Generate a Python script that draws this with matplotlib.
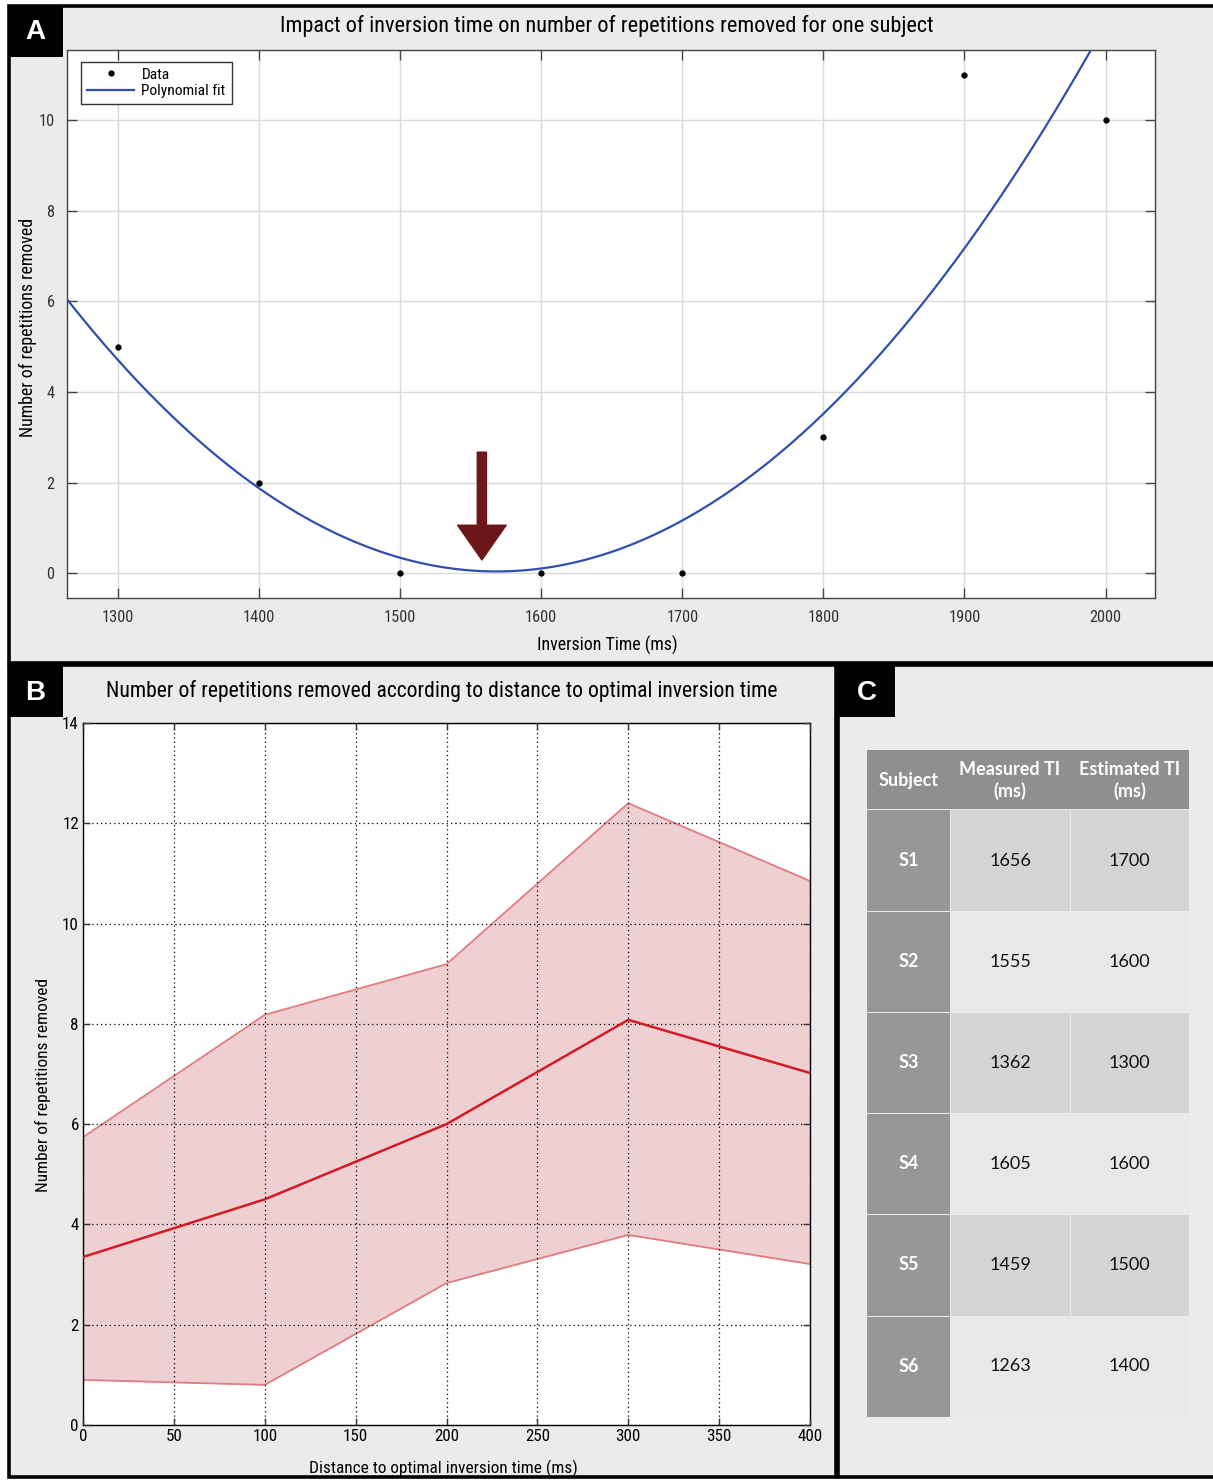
import numpy as np
import matplotlib
matplotlib.use("Agg")
import matplotlib.pyplot as plt
from matplotlib.patches import Rectangle, FancyArrowPatch
from matplotlib import font_manager as fm

# ---------------- data ----------------
# Panel A
ti_ms = [1300, 1400, 1500, 1600, 1700, 1800, 1900, 2000]
reps_removed = [5, 2, 0, 0, 0, 3, 11, 10]
arrow_x = 1558
arrow_y_top = 2.67
arrow_y_tip = 0.29

# Panel B
dist_ms = [0, 100, 200, 300, 400]
mean_reps = [3.35, 4.5, 6.0, 8.08, 7.02]
upper_reps = [5.74, 8.18, 9.19, 12.4, 10.85]
lower_reps = [0.9, 0.8, 2.83, 3.79, 3.21]

# Panel C
subjects = ["S1", "S2", "S3", "S4", "S5", "S6"]
measured_ti = [1656, 1555, 1362, 1605, 1459, 1263]
estimated_ti = [1700, 1600, 1300, 1600, 1500, 1400]
table_header = ["Subject", "Measured TI\n(ms)", "Estimated TI\n(ms)"]

# ---------------- fonts ----------------
installed = sorted({f.name for f in fm.fontManager.ttflist})
narrow_cands = [n for n in installed if ("Narrow" in n or "Condensed" in n)]
pref = ["Liberation Sans Narrow", "Arial Narrow", "Roboto Condensed", "DejaVu Sans Condensed",
        "Open Sans Condensed"]
narrow = None
for p in pref:
    if p in installed:
        narrow = p
        break
if narrow is None and narrow_cands:
    narrow = narrow_cands[0]
if narrow is None:
    narrow = "Liberation Sans" if "Liberation Sans" in installed else "DejaVu Sans"
NARROW = [narrow, "DejaVu Sans"]
TABLEF = ["Lato", "DejaVu Sans"]

# ---------------- figure ----------------
W, H = 1213, 1480
fig = plt.figure(figsize=(W / 100, H / 100), dpi=100, facecolor="white")
renderer = fig.canvas.get_renderer()


def px_axes(x0, y0, x1, y1, **kw):
    return fig.add_axes([x0 / W, 1 - y1 / H, (x1 - x0) / W, (y1 - y0) / H], **kw)


def fit(t, target, vertical=False):
    bb = t.get_window_extent(renderer)
    cur = bb.height if vertical else bb.width
    if cur > 0:
        t.set_fontsize(t.get_fontsize() * target / cur)


def size_for(text, target, family):
    t = fig.text(0, 0, text, fontsize=10, family=family)
    w = t.get_window_extent(renderer).width
    t.remove()
    return 10 * target / w


# background layer (pixel coordinates)
bg = px_axes(0, 0, W, H, zorder=0)
bg.set_xlim(0, W)
bg.set_ylim(H, 0)
bg.axis("off")
panel_bg = "#ebebeb"
for (x0, y0, x1, y1) in [(9, 6, 1216, 663), (9, 665, 836, 1477), (838, 665, 1216, 1477)]:
    bg.add_patch(Rectangle((x0, y0), x1 - x0, y1 - y0, facecolor=panel_bg,
                           edgecolor="black", lw=2.6))
for lab, (x0, y0, x1, y1) in zip("ABC", [(8, 5, 63, 57), (8, 666, 63, 717), (838, 666, 895, 717)]):
    bg.add_patch(Rectangle((x0, y0), x1 - x0, y1 - y0, facecolor="black", edgecolor="none"))
    bg.text((x0 + x1) / 2, (y0 + y1) / 2 + 1, lab, color="white", fontsize=20,
            fontweight="bold", ha="center", va="center", family=["Liberation Sans", "DejaVu Sans"])

tickA = size_for("1300", 32, NARROW)
tickB = size_for("400", 25, NARROW)
legsz = size_for("Polynomial fit", 84, NARROW)

# ---------------- Panel A ----------------
axA = px_axes(67, 50, 1155, 598, zorder=2)
axA.set_facecolor("white")
xs = np.linspace(1260, 2040, 400)
coef = np.polyfit(ti_ms, reps_removed, 2)
axA.plot(xs, np.polyval(coef, xs), color="#2f4fb0", lw=1.6, label="Polynomial fit", zorder=3)
axA.plot(ti_ms, reps_removed, "o", color="black", ms=3.5, label="Data", zorder=4)
axA.set_xlim(1264, 2035)
axA.set_ylim(-0.55, 11.55)
axA.set_xticks(ti_ms)
axA.set_yticks([0, 2, 4, 6, 8, 10])
axA.grid(True, color="#dadada", lw=1.0)
axA.set_axisbelow(True)
axA.tick_params(direction="in", length=7, width=1, color="#444444", top=True, right=True,
                labelsize=tickA, labelcolor="#333333", pad=9)
for lbl in axA.get_xticklabels() + axA.get_yticklabels():
    lbl.set_family(NARROW)
for s in axA.spines.values():
    s.set_color("#444444")
    s.set_linewidth(1.0)
xlA = axA.set_xlabel("Inversion Time (ms)", fontsize=12, family=NARROW)
ylA = axA.set_ylabel("Number of repetitions removed", fontsize=12, family=NARROW)
axA.xaxis.set_label_coords((607 - 67) / 1088, -(645 - 598) / 548)
axA.yaxis.set_label_coords((28 - 67) / 1088, (598 - 327) / 548)
xlA.set_va("center")
ylA.set_va("center")
fit(xlA, 141)
fit(ylA, 220, vertical=True)
h, l = axA.get_legend_handles_labels()
leg = axA.legend(h[::-1], l[::-1], loc="upper left", bbox_to_anchor=(0.013, 0.979),
                 borderaxespad=0, fancybox=False, edgecolor="#333333", framealpha=1,
                 prop={"family": NARROW, "size": legsz}, handlelength=3.0,
                 labelspacing=0.15, borderpad=0.4, handletextpad=0.5)
leg.get_frame().set_linewidth(1.0)
axA.add_patch(FancyArrowPatch((arrow_x, arrow_y_top), (arrow_x, arrow_y_tip),
                              arrowstyle="simple,head_length=1.25,head_width=1.75,tail_width=0.33",
                              mutation_scale=20, color="#6d171b", shrinkA=0, shrinkB=0, zorder=5))
tA = fig.text(607 / W, 1 - 26 / H, "Impact of inversion time on number of repetitions removed for one subject",
              ha="center", va="center", fontsize=16, family=NARROW)
fit(tA, 653)

# ---------------- Panel B ----------------
axB = px_axes(83, 723, 810, 1425, zorder=2)
axB.set_facecolor("white")
axB.fill_between(dist_ms, lower_reps, upper_reps, color="#eed0d2", lw=0, zorder=1)
axB.plot(dist_ms, upper_reps, color="#e27b7e", lw=1.3, zorder=2)
axB.plot(dist_ms, lower_reps, color="#e27b7e", lw=1.3, zorder=2)
axB.plot(dist_ms, mean_reps, color="#d41a22", lw=1.8, zorder=3)
axB.set_xlim(0, 400)
axB.set_ylim(0, 14)
axB.set_xticks(np.arange(0, 401, 50))
axB.set_yticks(np.arange(0, 15, 2))
axB.grid(True, color="black", linestyle=(0, (1, 2.5)), lw=0.9)
axB.set_axisbelow(False)
axB.tick_params(direction="in", length=5, width=1, color="#333333", top=True, right=True,
                labelsize=tickB, pad=3)
for lbl in axB.get_xticklabels() + axB.get_yticklabels():
    lbl.set_family(NARROW)
for s in axB.spines.values():
    s.set_color("black")
    s.set_linewidth(1.0)
xlB = axB.set_xlabel("Distance to optimal inversion time (ms)", fontsize=12, family=NARROW)
ylB = axB.set_ylabel("Number of repetitions removed", fontsize=11.5, family=NARROW)
axB.xaxis.set_label_coords((443 - 83) / 727, -(1468 - 1425) / 702)
axB.yaxis.set_label_coords((43 - 83) / 727, (1425 - 1085) / 702)
xlB.set_va("center")
ylB.set_va("center")
fit(xlB, 267)
fit(ylB, 214, vertical=True)
tB = fig.text(442 / W, 1 - 691 / H, "Number of repetitions removed according to distance to optimal inversion time",
              ha="center", va="center", fontsize=15.5, family=NARROW)
fit(tB, 671)

# ---------------- Panel C (table) ----------------
col_edges = [867, 950, 1070, 1189]
head_top, head_bot = 750, 809
row_h = 101.1
header_col = "#8f8f8f"
subj_col = "#979797"
row_cols = ["#d4d4d4", "#e8e8e8"]
for j, txt in enumerate(table_header):
    bg.add_patch(Rectangle((col_edges[j], head_top), col_edges[j + 1] - col_edges[j],
                           head_bot - head_top, facecolor=header_col, edgecolor="none"))
    bg.text((col_edges[j] + col_edges[j + 1]) / 2, (head_top + head_bot) / 2 + 1, txt,
            color="white", fontsize=13, fontweight="bold", ha="center", va="center",
            family=TABLEF, linespacing=1.3)
for i, (s, m, e) in enumerate(zip(subjects, measured_ti, estimated_ti)):
    y0 = head_bot + 1 + i * row_h
    vals = [s, str(m), str(e)]
    for j, v in enumerate(vals):
        fc = subj_col if j == 0 else row_cols[i % 2]
        bg.add_patch(Rectangle((col_edges[j] + (1 if j else 0), y0 + (1 if i else 0)),
                               col_edges[j + 1] - col_edges[j] - (1 if j else 0),
                               row_h - (1 if i else 0), facecolor=fc, edgecolor="none"))
        bg.text((col_edges[j] + col_edges[j + 1]) / 2, y0 + row_h / 2, v,
                color="white" if j == 0 else "#111111", fontsize=13,
                fontweight="bold" if j == 0 else "normal", ha="center", va="center",
                family=TABLEF)

fig.savefig("out.png", dpi=100, facecolor="white")
